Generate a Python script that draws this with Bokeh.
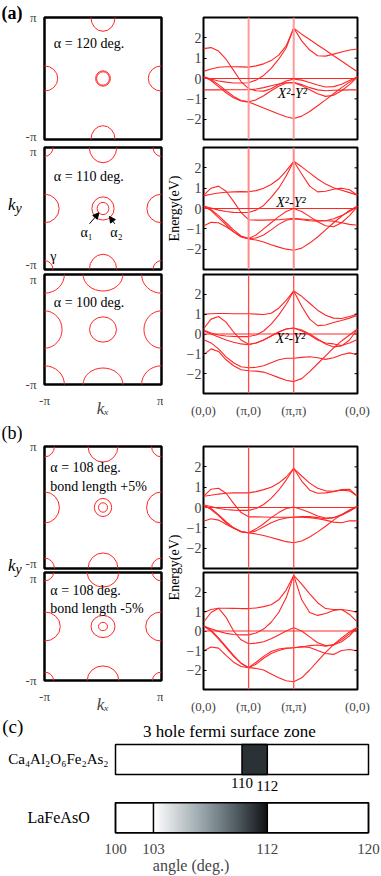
import numpy as np
from bokeh.plotting import figure
from bokeh.layouts import column, row
from bokeh.models import Range1d, FixedTicker, Span, Label, Arrow, NormalHead
from bokeh.embed import file_html
from bokeh.resources import INLINE

SERIF = "Liberation Serif"
RED = "#ff2626"

# ---------------- data ----------------
# k-path: (0,0)=0, (pi,0)=1, (pi,pi)=2, back to (0,0)=2+sqrt(2)
K = [0.0, 0.167, 0.333, 0.5, 0.667, 0.833, 1.0,
     1.167, 1.333, 1.5, 1.667, 1.833, 2.0,
     2.177, 2.354, 2.530, 2.707, 2.884, 3.061, 3.237, 3.414]
K_TICKS = [0.0, 1.0, 2.0, 3.414]
K_LABELS = ["(0,0)", "(π,0)", "(π,π)", "(0,0)"]
E_TICKS = [-2, -1, 0, 1, 2]

BANDS_A120 = [
    [0.35, 0.47, 0.55, 0.58, 0.58, 0.57, 0.56, 0.62, 0.72, 0.88, 1.15, 1.6, 2.48, 2.18, 1.92, 1.65, 1.39, 1.12, 0.86, 0.59, 0.33],
    [0.08, -0.02, -0.12, -0.18, -0.22, -0.22, -0.21, -0.08, 0.15, 0.5, 0.95, 1.5, 2.48, 1.85, 1.4, 1.12, 1.1, 1.2, 1.3, 1.4, 1.45],
    [1.47, 1.52, 1.35, 0.95, 0.4, -0.15, -0.5, -0.6, -0.62, -0.5, -0.3, -0.12, -0.03, -0.08, -0.2, -0.32, -0.42, -0.4, -0.28, -0.1, 0.08],
    [-0.56, -0.56, -0.56, -0.55, -0.55, -0.55, -0.55, -0.52, -0.45, -0.36, -0.27, -0.21, -0.2, -0.3, -0.45, -0.56, -0.6, -0.58, -0.57, -0.56, -0.56],
    [0.08, -0.05, -0.3, -0.6, -0.88, -1.08, -1.14, -1.05, -0.85, -0.6, -0.38, -0.22, -0.2, -0.35, -0.55, -0.75, -0.88, -0.82, -0.6, -0.3, 0.08],
    [0.08, -0.1, -0.4, -0.7, -0.95, -1.1, -1.16, -1.3, -1.45, -1.6, -1.75, -1.88, -1.97, -1.85, -1.62, -1.34, -1.05, -0.75, -0.45, -0.18, 0.08],
]
BANDS_A110 = [
    [0.62, 0.7, 0.76, 0.8, 0.82, 0.83, 0.82, 0.88, 1.0, 1.18, 1.45, 1.85, 2.32, 2.05, 1.75, 1.45, 1.2, 1.02, 0.9, 0.78, 0.65],
    [0.12, 0.02, -0.08, -0.15, -0.19, -0.2, -0.2, -0.08, 0.15, 0.55, 1.0, 1.6, 2.32, 1.7, 1.1, 0.82, 0.85, 0.95, 1.0, 0.92, 0.65],
    [0.65, 1.0, 1.1, 0.85, 0.35, -0.2, -0.55, -0.57, -0.57, -0.56, -0.55, -0.52, -0.5, -0.52, -0.55, -0.58, -0.6, -0.62, -0.7, -0.78, -0.82],
    [-0.86, -0.68, -0.7, -0.9, -1.15, -1.38, -1.48, -1.45, -1.3, -1.05, -0.78, -0.58, -0.5, -0.55, -0.6, -0.62, -0.6, -0.5, -0.35, -0.15, 0.1],
    [0.1, -0.05, -0.35, -0.7, -1.05, -1.35, -1.48, -1.3, -1.0, -0.7, -0.4, -0.15, 0.0, -0.15, -0.4, -0.65, -0.85, -0.9, -0.7, -0.35, 0.1],
    [0.12, -0.1, -0.45, -0.8, -1.15, -1.4, -1.5, -1.55, -1.65, -1.78, -1.9, -2.0, -2.05, -1.95, -1.7, -1.4, -1.05, -0.7, -0.38, -0.1, 0.12],
]
BANDS_A100 = [
    [1.0, 1.02, 1.03, 1.03, 1.02, 1.02, 1.02, 1.0, 0.98, 1.05, 1.3, 1.7, 2.17, 1.9, 1.55, 1.2, 0.95, 0.8, 0.78, 0.88, 1.0],
    [0.2, 0.05, -0.05, -0.1, -0.12, -0.13, -0.13, -0.05, 0.15, 0.5, 0.95, 1.5, 2.17, 1.4, 0.75, 0.42, 0.45, 0.58, 0.68, 0.8, 0.95],
    [0.25, 0.75, 0.88, 0.6, 0.1, -0.3, -0.52, -0.45, -0.3, -0.1, 0.1, 0.25, 0.3, 0.2, 0.0, -0.25, -0.5, -0.65, -0.6, -0.3, 0.25],
    [0.16, 0.0, -0.15, -0.3, -0.42, -0.5, -0.54, -0.45, -0.3, -0.1, 0.1, 0.25, 0.3, 0.15, -0.05, -0.3, -0.45, -0.5, -0.58, -0.45, -0.28],
    [-0.28, -0.45, -0.75, -1.15, -1.45, -1.65, -1.7, -1.68, -1.6, -1.45, -1.3, -1.22, -1.22, -1.18, -1.15, -1.2, -1.28, -1.2, -1.05, -0.95, -1.05],
    [-1.05, -0.75, -0.88, -1.3, -1.6, -1.8, -1.85, -1.87, -1.92, -2.05, -2.2, -2.33, -2.4, -2.25, -1.9, -1.5, -1.1, -0.7, -0.35, -0.05, 0.25],
]
BANDS_B_PLUS = [
    [0.55, 0.6, 0.66, 0.7, 0.72, 0.72, 0.72, 0.78, 0.88, 1.0, 1.2, 1.5, 1.92, 1.55, 1.2, 0.95, 0.82, 0.8, 0.85, 0.82, 0.55],
    [0.12, 0.05, -0.05, -0.1, -0.13, -0.14, -0.14, -0.05, 0.15, 0.45, 0.85, 1.35, 1.92, 1.3, 0.85, 0.7, 0.72, 0.78, 0.88, 0.9, 0.55],
    [0.55, 0.9, 0.95, 0.7, 0.2, -0.25, -0.46, -0.46, -0.47, -0.48, -0.48, -0.48, -0.48, -0.48, -0.5, -0.55, -0.62, -0.72, -0.75, -0.65, -0.66],
    [-0.68, -0.55, -0.62, -0.82, -1.02, -1.18, -1.24, -1.15, -0.95, -0.75, -0.6, -0.52, -0.48, -0.45, -0.45, -0.5, -0.55, -0.5, -0.35, -0.15, 0.05],
    [0.1, -0.05, -0.35, -0.7, -1.0, -1.2, -1.24, -1.05, -0.8, -0.5, -0.25, -0.05, 0.02, -0.1, -0.25, -0.42, -0.52, -0.5, -0.38, -0.18, 0.05],
    [0.12, -0.1, -0.4, -0.75, -1.0, -1.18, -1.25, -1.3, -1.38, -1.48, -1.58, -1.68, -1.73, -1.65, -1.45, -1.2, -0.92, -0.62, -0.35, -0.12, 0.08],
]
BANDS_B_MINUS = [
    [0.94, 1.1, 1.17, 1.17, 1.16, 1.15, 1.15, 1.18, 1.25, 1.35, 1.6, 2.1, 2.85, 2.4, 1.9, 1.45, 1.15, 1.1, 1.1, 1.05, 0.95],
    [0.24, 0.12, -0.02, -0.12, -0.18, -0.2, -0.2, -0.1, 0.1, 0.45, 0.95, 1.7, 2.85, 1.6, 0.95, 0.8, 0.9, 1.05, 1.1, 0.85, 0.45],
    [0.45, 0.95, 1.17, 0.7, 0.0, -0.45, -0.65, -0.62, -0.55, -0.4, -0.2, 0.0, 0.17, 0.0, -0.3, -0.6, -0.75, -0.72, -0.55, -0.25, 0.2],
    [0.24, 0.0, -0.4, -0.85, -1.3, -1.65, -1.88, -1.6, -1.3, -1.05, -0.92, -0.87, -0.86, -0.8, -0.85, -1.0, -1.15, -1.2, -1.0, -0.95, -1.02],
    [0.29, 0.05, -0.35, -0.8, -1.25, -1.65, -1.88, -1.92, -2.0, -2.2, -2.4, -2.55, -2.6, -2.4, -2.0, -1.55, -1.1, -0.7, -0.35, -0.05, 0.2],
    [-1.02, -0.82, -0.88, -1.25, -1.6, -1.82, -1.88, -1.7, -1.4, -1.15, -1.0, -0.9, -0.86, -0.82, -0.75, -0.72, -0.78, -0.7, -0.45, -0.15, 0.2],
]

# Fermi surfaces (k in units of pi): hole radii at (0,0); edge pockets (tangential, radial half axes); corner radius
HOLES_A120 = [0.110, 0.126]
EDGE_A120 = [0.206, 0.226]
CORNER_A120 = 0.0
HOLES_A110 = [0.10, 0.19]
EDGE_A110 = [0.234, 0.25]
CORNER_A110 = 0.145
HOLES_A100 = [0.23]
EDGE_A100 = [0.34, 0.30]
CORNER_A100 = 0.34
HOLES_B_PLUS = [0.077, 0.148]
EDGE_B_PLUS = [0.255, 0.255]
CORNER_B_PLUS = 0.17
HOLES_B_MINUS = [0.077, 0.205]
EDGE_B_MINUS = [0.27, 0.27]
CORNER_B_MINUS = 0.155

# panel (c)
ANGLE_TICKS = [100, 103, 112, 120]
ANGLE_RANGE = [100, 120]
CA_ZONE = [110, 112]
LA_ZONE = [103, 112]


# ---------------- helpers ----------------
def lab(p, x, y, text, size="14px", align="left", baseline="middle", style="normal", angle=0.0):
    p.add_layout(Label(x=x, y=y, text=text, text_font=SERIF, text_font_size=size,
                       text_align=align, text_baseline=baseline, text_font_style=style,
                       angle=angle, text_color="black"))


def base(p):
    p.grid.visible = False
    p.background_fill_color = "white"
    p.border_fill_color = "white"


def fs_fig(h, top, bottom, holes, edge, corner, show_x):
    p = figure(width=141, height=h, x_range=Range1d(-1, 1), y_range=Range1d(-1, 1),
               min_border_left=16, min_border_right=2, min_border_top=top, min_border_bottom=bottom,
               x_axis_location="below" if show_x else None, y_axis_location="left",
               output_backend="svg", toolbar_location=None)
    base(p)
    p.outline_line_color = "black"
    p.outline_line_width = 2.5
    axes = list(p.yaxis) + (list(p.xaxis) if show_x else [])
    for ax in axes:
        ax.ticker = FixedTicker(ticks=[-1, 1])
        ax.major_label_overrides = {-1: "-π", 1: "π"}
        ax.major_tick_line_color = None
        ax.minor_tick_line_color = None
        ax.axis_line_color = None
        ax.major_label_text_font = SERIF
        ax.major_label_text_font_size = "13px"
        ax.major_label_standoff = 2
    if show_x:
        xa = p.xaxis[0]
        xa.axis_label = "kₓ"
        xa.axis_label_text_font = SERIF
        xa.axis_label_text_font_size = "17px"
        xa.axis_label_text_font_style = "italic"
        xa.axis_label_standoff = -12
    n = len(holes)
    p.ellipse(x=[0] * n, y=[0] * n, width=[2 * r for r in holes], height=[2 * r for r in holes],
              fill_color=None, line_color=RED, line_width=1)
    t, r = edge
    p.ellipse(x=[0, 0, -1, 1], y=[1, -1, 0, 0],
              width=[2 * t, 2 * t, 2 * r, 2 * r], height=[2 * r, 2 * r, 2 * t, 2 * t],
              fill_color=None, line_color=RED, line_width=1)
    if corner > 0:
        p.ellipse(x=[-1, -1, 1, 1], y=[-1, 1, -1, 1], width=2 * corner, height=2 * corner,
                  fill_color=None, line_color=RED, line_width=1)
    return p


def band_fig(h, top, bottom, bands, show_x, vcolor, vwidth):
    p = figure(width=198, height=h, x_range=Range1d(0, K_TICKS[-1]), y_range=Range1d(-3, 3),
               min_border_left=16, min_border_right=24, min_border_top=top, min_border_bottom=bottom,
               x_axis_location="below" if show_x else None, y_axis_location="left",
               output_backend="svg", toolbar_location=None)
    base(p)
    p.outline_line_color = "black"
    p.outline_line_width = 2
    yax = p.yaxis[0]
    yax.ticker = FixedTicker(ticks=E_TICKS)
    yax.major_tick_in = 3
    yax.major_tick_out = 0
    yax.minor_tick_line_color = None
    yax.axis_line_color = None
    yax.major_label_text_font = SERIF
    yax.major_label_text_font_size = "14px"
    yax.major_label_standoff = 2
    if show_x:
        xax = p.xaxis[0]
        xax.ticker = FixedTicker(ticks=K_TICKS)
        xax.major_label_overrides = dict(zip(K_TICKS, K_LABELS))
        xax.major_tick_line_color = None
        xax.minor_tick_line_color = None
        xax.axis_line_color = None
        xax.major_label_text_font = SERIF
        xax.major_label_text_font_size = "13px"
        xax.major_label_standoff = 3
    for loc in K_TICKS[1:3]:
        p.add_layout(Span(location=loc, dimension="height", line_color=vcolor, line_width=vwidth))
    p.add_layout(Span(location=0, dimension="width", line_color=RED, line_width=1.2))
    p.multi_line(xs=[K] * len(bands), ys=bands, line_color=RED, line_width=1.1)
    # inward tick marks on the right edge
    kmax = K_TICKS[-1]
    p.segment(x0=[kmax - 0.065] * len(E_TICKS), y0=E_TICKS, x1=[kmax] * len(E_TICKS), y1=E_TICKS,
              line_color="black", line_width=1)
    return p


def text_fig(w, h):
    p = figure(width=w, height=h, x_range=Range1d(0, w), y_range=Range1d(h, 0),
               min_border=0, x_axis_location=None, y_axis_location=None,
               output_backend="svg", toolbar_location=None)
    base(p)
    p.outline_line_color = None
    return p


def gutter(h, letter, bold, ky_y):
    p = text_fig(22, h)
    lab(p, 1, 2, letter, size="18px", baseline="top", style="bold" if bold else "normal")
    lab(p, 15, ky_y, "k", size="17px", align="right", style="italic")
    lab(p, 15, ky_y + 4, "y", size="14px", align="left", style="italic")
    return p


# ---------------- panel (a) ----------------
fa1 = fs_fig(143, 17, 4, HOLES_A120, EDGE_A120, CORNER_A120, False)
lab(fa1, -0.84, 0.57, "α = 120 deg.")

fa2 = fs_fig(128, 4, 2, HOLES_A110, EDGE_A110, CORNER_A110, False)
lab(fa2, -0.84, 0.52, "α = 110 deg.")
lab(fa2, -0.28, -0.40, "α₁", size="14px", align="center")
lab(fa2, 0.23, -0.40, "α₂", size="14px", align="center")
lab(fa2, -0.85, -0.79, "γ", size="14px", align="center")
fa2.add_layout(Arrow(end=NormalHead(size=6, fill_color="black", line_color="black"),
                     x_start=-0.23, y_start=-0.25, x_end=-0.07, y_end=-0.07, line_width=1))
fa2.add_layout(Arrow(end=NormalHead(size=6, fill_color="black", line_color="black"),
                     x_start=0.2, y_start=-0.25, x_end=0.11, y_end=-0.13, line_width=1))

fa3 = fs_fig(149, 3, 22, HOLES_A100, EDGE_A100, CORNER_A100, True)
lab(fa3, -0.84, 0.5, "α = 100 deg.")

ba1 = band_fig(143, 17, 4, BANDS_A120, False, "#ff9a9a", 2)
lab(ba1, 1.97, -0.72, "X²-Y²", size="14px", align="center", style="italic")
ba2 = band_fig(128, 4, 2, BANDS_A110, False, "#ff8a8a", 2)
lab(ba2, 1.94, 0.3, "X²-Y²", size="14px", align="center", style="italic")
ba3 = band_fig(149, 3, 22, BANDS_A100, True, "#ff4a4a", 1.3)
lab(ba3, 1.93, -0.25, "X²-Y²", size="14px", align="center", style="italic")

ea = text_fig(20, 420)
lab(ea, 11, 208, "Energy(eV)", size="14px", align="center", angle=np.pi / 2)
ga = gutter(420, "(a)", True, 204)
group_a = row(ga, column(fa1, fa2, fa3), ea, column(ba1, ba2, ba3))

# ---------------- panel (b) ----------------
fb1 = fs_fig(150, 26, 2, HOLES_B_PLUS, EDGE_B_PLUS, CORNER_B_PLUS, False)
lab(fb1, -0.9, 0.66, "α = 108 deg.")
lab(fb1, -0.9, 0.34, "bond length +5%")

fb2 = fs_fig(146, 2, 22, HOLES_B_MINUS, EDGE_B_MINUS, CORNER_B_MINUS, True)
lab(fb2, -0.9, 0.66, "α = 108 deg.")
lab(fb2, -0.9, 0.34, "bond length -5%")

bb1 = band_fig(150, 26, 2, BANDS_B_PLUS, False, "#ff4a4a", 1.3)
bb2 = band_fig(146, 2, 22, BANDS_B_MINUS, True, "#ff4a4a", 1.3)

eb = text_fig(20, 296)
lab(eb, 11, 147, "Energy(eV)", size="14px", align="center", angle=np.pi / 2)
gb = gutter(296, "(b)", False, 145)
group_b = row(gb, column(fb1, fb2), eb, column(bb1, bb2))

# ---------------- panel (c) ----------------
PX_PER_DEG = 12.65
PX_PER_ROW = 31.0
X0 = ANGLE_RANGE[0] - 115 / PX_PER_DEG
X1 = ANGLE_RANGE[1] + 13 / PX_PER_DEG
Y0 = -0.661
Y1 = Y0 + 125 / PX_PER_ROW
pc = figure(width=381, height=160, x_range=Range1d(X0, X1), y_range=Range1d(Y0, Y1),
            min_border_left=0, min_border_right=0, min_border_top=0, min_border_bottom=35,
            y_axis_location=None, output_backend="svg", toolbar_location=None)
base(pc)
pc.outline_line_color = None
xa = pc.xaxis[0]
xa.ticker = FixedTicker(ticks=ANGLE_TICKS)
xa.major_tick_line_color = None
xa.minor_tick_line_color = None
xa.axis_line_color = None
xa.major_label_text_font = SERIF
xa.major_label_text_font_size = "15px"
xa.major_label_standoff = 0
xa.axis_label = "angle (deg.)"
xa.axis_label_text_font = SERIF
xa.axis_label_text_font_size = "16px"
xa.axis_label_text_font_style = "normal"
xa.axis_label_standoff = 0

ROW_LA, ROW_CA, HALF = 0.0, 1.935, 0.5
pc.quad(left=[ANGLE_RANGE[0]] * 2, right=[ANGLE_RANGE[1]] * 2,
        bottom=[ROW_LA - HALF, ROW_CA - HALF], top=[ROW_LA + HALF, ROW_CA + HALF],
        fill_color="white", line_color="black", line_width=1.5)
pc.quad(left=[CA_ZONE[0]], right=[CA_ZONE[1]], bottom=[ROW_CA - HALF], top=[ROW_CA + HALF],
        fill_color="#2a3236", line_color="black", line_width=1.5)

stops = [(0.0, (255, 255, 255)), (0.45, (147, 160, 166)), (0.75, (74, 86, 92)), (1.0, (16, 16, 16))]
palette = []
for t in np.linspace(0, 1, 256):
    for (t0, c0), (t1, c1) in zip(stops[:-1], stops[1:]):
        if t0 <= t <= t1:
            f = (t - t0) / (t1 - t0)
            c = [int(round(a + (b - a) * f)) for a, b in zip(c0, c1)]
            palette.append("#%02x%02x%02x" % tuple(c))
            break
ramp = np.linspace(0, 255, 256).reshape(1, -1)
pc.image(image=[ramp], x=LA_ZONE[0], y=ROW_LA - HALF, dw=LA_ZONE[1] - LA_ZONE[0], dh=2 * HALF,
         palette=palette)
pc.quad(left=[ANGLE_RANGE[0]], right=[ANGLE_RANGE[1]], bottom=[ROW_LA - HALF], top=[ROW_LA + HALF],
        fill_color=None, line_color="black", line_width=1.5)
pc.segment(x0=LA_ZONE, y0=[ROW_LA - HALF] * 2, x1=LA_ZONE, y1=[ROW_LA + HALF] * 2,
           line_color="black", line_width=1.5)

lab(pc, CA_ZONE[0], 1.145, "110", size="15px", align="center")
lab(pc, CA_ZONE[1], 1.05, "112", size="15px", align="center")
lab(pc, 99.45, 1.952, "Ca₄Al₂O₆Fe₂As₂", size="15px", align="right")
lab(pc, 95.5, 0.0, "LaFeAsO", size="16px", align="center")
lab(pc, 109.0, 2.855, "3 hole fermi surface zone", size="17px", align="center")
lab(pc, 91.05, 3.05, "(c)", size="19px", align="left")

layout = column(group_a, group_b, pc)

with open("out.html", "w") as fh:
    fh.write(file_html(layout, INLINE))
